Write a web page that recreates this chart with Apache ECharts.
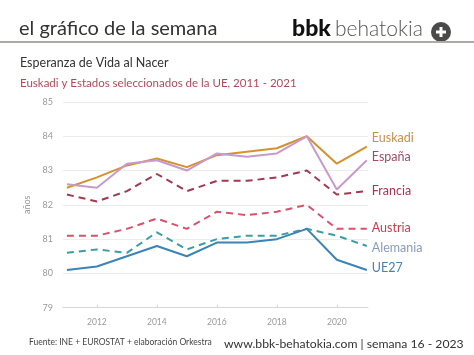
<!DOCTYPE html>
<html><head><meta charset="utf-8">
<script src="https://cdn.jsdelivr.net/npm/echarts@6/dist/echarts.min.js"></script>
<style>html,body{margin:0;padding:0;background:#fff}#c{width:474px;height:355px}</style>
</head><body><div id="c"></div>
<script>
const years = [2011,2012,2013,2014,2015,2016,2017,2018,2019,2020,2021];
const xTicks = [2012,2014,2016,2018,2020];
const yTicks = [79,80,81,82,83,84,85];
const euskadi = [82.5,82.8,83.15,83.35,83.1,83.45,83.55,83.65,84.0,83.2,83.7];
const espana  = [82.6,82.5,83.2,83.3,83.0,83.5,83.4,83.5,84.0,82.45,83.3];
const francia = [82.3,82.1,82.4,82.9,82.4,82.7,82.7,82.8,83.0,82.3,82.4];
const austria = [81.1,81.1,81.3,81.6,81.3,81.8,81.7,81.8,82.0,81.3,81.3];
const alemania= [80.6,80.7,80.6,81.2,80.7,81.0,81.1,81.1,81.3,81.1,80.8];
const ue27    = [80.1,80.2,80.5,80.8,80.5,80.9,80.9,81.0,81.3,80.4,80.1];
const names = ['Euskadi','España','Francia','Austria','Alemania','UE27'];

const F = 'Lato, "Open Sans", sans-serif';
function pts(arr){ return years.map((y,i)=>[y,arr[i]]); }
function mk(name, data, color, labelColor, dashed, dy){
  return {
    name, type:'line', data: pts(data), symbol:'none', smooth:false,
    lineStyle:{color, width:2, type: dashed ? [7,5] : 'solid'},
    endLabel:{show:true, formatter:name, color:labelColor, fontSize:12.5, fontFamily:F, distance:5, offset:[0,dy]},
    z: dashed ? 2 : 3
  };
}
const chart = echarts.init(document.getElementById('c'), null, {renderer:'canvas'});
chart.setOption({
  animation:false,
  backgroundColor:'#fff',
  grid:{left:63, right:106, top:102, bottom:47.3},
  xAxis:{type:'value', min:2010.87, max:2021.04,
    axisLine:{show:true, lineStyle:{color:'#d6d6d6', width:1}},
    axisTick:{show:true, customValues:xTicks, length:3, inside:true, lineStyle:{color:'#d6d6d6'}},
    axisLabel:{customValues:xTicks, formatter:v=>String(v), color:'#9a9a9a', fontSize:8.5, fontFamily:F, margin:10},
    splitLine:{show:false}},
  yAxis:{type:'value', min:79, max:85, interval:1,
    name:'años', nameLocation:'middle', nameGap:24, nameRotate:90,
    nameTextStyle:{color:'#9a9a9a', fontSize:9, fontFamily:F},
    axisLine:{show:false}, axisTick:{show:false},
    axisLabel:{color:'#9a9a9a', fontSize:9, fontFamily:F, margin:10},
    splitLine:{lineStyle:{color:'#ececec', width:1}}},
  series:[
    mk(names[0], euskadi, '#d4912e', '#c39050', false, -9),
    mk(names[1], espana, '#c79acb', '#9c4d68', false, -3),
    mk(names[2], francia, '#a3384f', '#a3384f', true, 0),
    mk(names[3], austria, '#d9526b', '#c8404f', true, -1),
    mk(names[4], alemania, '#3a9ea4', '#8a9bbd', true, 2),
    mk(names[5], ue27, '#3b84b6', '#4a82b3', false, -2)
  ],
  graphic:[
    {type:'text', left:19, top:19, style:{text:'el gráfico de la semana', fill:'#333', font:'20px '+F}},
    {type:'text', left:292, top:17, style:{text:'bbk', fill:'#111', font:'900 23px '+F}},
    {type:'text', left:335, top:19, style:{text:'behatokia', fill:'#555', font:'300 21px '+F}},
    {type:'circle', shape:{cx:441, cy:32, r:10}, style:{fill:'#4a4a4a'}},
    {type:'rect', shape:{x:436, y:30.5, width:10, height:3}, style:{fill:'#fff'}},
    {type:'rect', shape:{x:439.5, y:27, width:3, height:10}, style:{fill:'#fff'}},
    {type:'rect', shape:{x:0, y:41, width:474, height:2}, style:{fill:'#b0a8a2'}},
    {type:'text', left:20, top:56, style:{text:'Esperanza de Vida al Nacer', fill:'#333', font:'12.5px '+F}},
    {type:'text', left:20, top:77, style:{text:'Euskadi y Estados seleccionados de la UE, 2011 - 2021', fill:'#b04a5a', font:'11.5px '+F}},
    {type:'text', left:29, top:338, style:{text:'Fuente: INE + EUROSTAT + elaboración Orkestra', fill:'#444', font:'8.5px '+F}},
    {type:'text', left:224, top:338, style:{text:'www.bbk-behatokia.com | semana 16 - 2023', fill:'#333', font:'12.2px '+F}}
  ]
});
</script></body></html>
